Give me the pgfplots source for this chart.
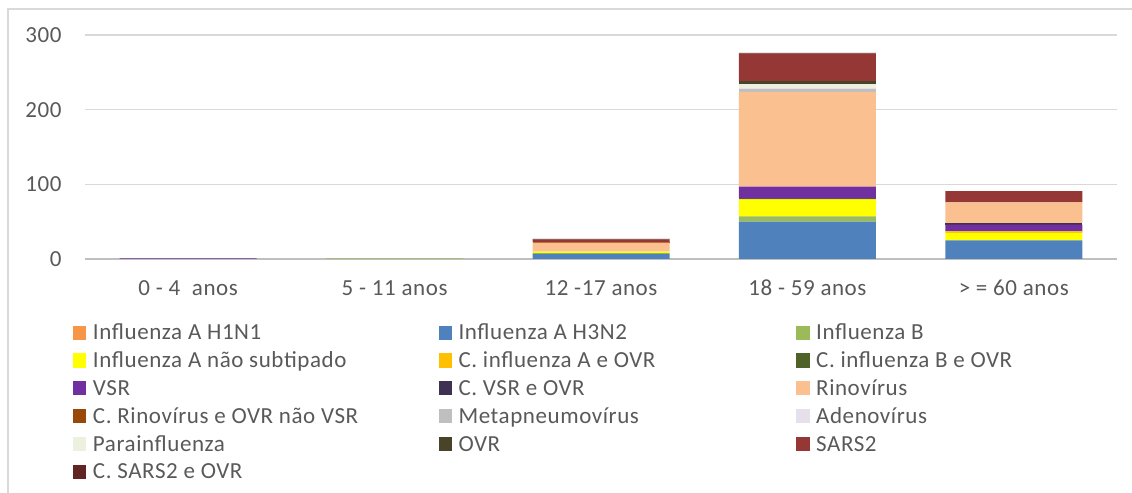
\documentclass[border=0pt]{standalone}
\usepackage{fontspec}
\setmainfont{Carlito}[LetterSpace=2.5]
\usepackage{pgfplots}
\pgfplotsset{compat=1.18}
\usepackage{pgfplotstable}
\definecolor{cH1N1}{HTML}{F79646}
\definecolor{cH3N2}{HTML}{4F81BD}
\definecolor{cB}{HTML}{9BBB59}
\definecolor{cNSub}{HTML}{FFFF00}
\definecolor{cCinfA}{HTML}{FFC000}
\definecolor{cCinfB}{HTML}{4F6228}
\definecolor{cVSR}{HTML}{7030A0}
\definecolor{cCVSR}{HTML}{3F3151}
\definecolor{cRino}{HTML}{FAC090}
\definecolor{cCRino}{HTML}{984807}
\definecolor{cMetap}{HTML}{BFBFBF}
\definecolor{cAdeno}{HTML}{E6E0EC}
\definecolor{cParainf}{HTML}{EBF1DE}
\definecolor{cOVR}{HTML}{494429}
\definecolor{cSARS}{HTML}{953735}
\definecolor{cCSARS}{HTML}{632523}
\definecolor{textc}{HTML}{595959}
\definecolor{gridc}{HTML}{D9D9D9}
\definecolor{axisc}{HTML}{BFBFBF}
\definecolor{framec}{HTML}{D9D9D9}
\pgfplotstableread{
x H1N1 H3N2 B NSub CinfA CinfB VSR CVSR Rino CRino Metap Adeno Parainf OVR SARS CSARS
0 0 0  0 0  0 0 1  0 0   0 0 0 0 0 0  0
1 0 0  1 0  0 0 0  0 0   0 0 0 0 0 0  0
2 0 7  1 2  0 0 0  0 12  1 0 0 0 0 3  1
3 0 50 7 22 1 2 15 0 127 0 4 1 5 4 37 1
4 0 25 0 10 2 0 9  2 28  0 0 0 0 0 15 0
}\datatable
\newcommand{\lA}[1]{\makebox[169.5pt][l]{#1}}
\newcommand{\lB}[1]{\makebox[165.5pt][l]{#1}}
\newcommand{\fs}{\fontsize{11.5pt}{13.8pt}\selectfont}
\begin{document}
\begin{tikzpicture}[font=\fs]
\path[use as bounding box] (0,0) rectangle (566pt,246.5pt);
\draw[color=framec, line width=0.75pt] (4pt,0) -- (4pt,242pt) -- (566pt,242pt);
\begin{axis}[
  at={(42.5pt,117pt)}, anchor=south west,
  scale only axis, width=516pt, height=112pt,
  xmin=-0.5, xmax=4.5, ymin=0, ymax=300,
  ybar stacked, bar width=68.5pt,
  xtick={0,1,2,3,4},
  xticklabels={0 - 4~ anos, 5 - 11 anos, 12 -17 anos, 18 - 59 anos, > = 60 anos},
  ytick={0,100,200,300},
  ymajorgrids, grid style={draw=gridc, line width=0.75pt},
  axis x line*=bottom, axis y line*=left,
  x axis line style={draw=axisc, line width=0.75pt, -},
  y axis line style={draw=none},
  major tick length=0pt,
  tick label style={font=\fs, text=textc},
  /pgf/number format/assume math mode=true,
  yticklabel style={inner sep=0pt, anchor=east, xshift=-11.5pt},
  xticklabel style={inner sep=0pt, anchor=base, yshift=-18.5pt},
  legend columns=3,
  legend style={at={(axis description cs:0,0)}, anchor=north west, xshift=-6pt, yshift=-32.4pt,
    draw=none, fill=none, inner sep=0pt, outer sep=0pt, column sep=3.3pt, row sep=0pt,
    font=\fs, text=textc,
    cells={anchor=base west},
    nodes={inner sep=0pt, text height=8pt, text depth=5.9pt}},
  legend image code/.code={\path[#1,draw=none] (0pt,0pt) rectangle (6.7pt,7.1pt);},
]
\addplot[fill=cH1N1, draw=none] table[x=x, y=H1N1] {\datatable};
\addlegendentry{\lA{Influenza A H1N1}}
\addplot[fill=cH3N2, draw=none] table[x=x, y=H3N2] {\datatable};
\addlegendentry{\lB{Influenza A H3N2}}
\addplot[fill=cB, draw=none] table[x=x, y=B] {\datatable};
\addlegendentry{Influenza B}
\addplot[fill=cNSub, draw=none] table[x=x, y=NSub] {\datatable};
\addlegendentry{\lA{Influenza A não subtipado}}
\addplot[fill=cCinfA, draw=none] table[x=x, y=CinfA] {\datatable};
\addlegendentry{\lB{C. influenza A e OVR}}
\addplot[fill=cCinfB, draw=none] table[x=x, y=CinfB] {\datatable};
\addlegendentry{C. influenza B e OVR}
\addplot[fill=cVSR, draw=none] table[x=x, y=VSR] {\datatable};
\addlegendentry{\lA{VSR}}
\addplot[fill=cCVSR, draw=none] table[x=x, y=CVSR] {\datatable};
\addlegendentry{\lB{C. VSR e OVR}}
\addplot[fill=cRino, draw=none] table[x=x, y=Rino] {\datatable};
\addlegendentry{Rinovírus}
\addplot[fill=cCRino, draw=none] table[x=x, y=CRino] {\datatable};
\addlegendentry{\lA{C. Rinovírus e OVR não VSR}}
\addplot[fill=cMetap, draw=none] table[x=x, y=Metap] {\datatable};
\addlegendentry{\lB{Metapneumovírus}}
\addplot[fill=cAdeno, draw=none] table[x=x, y=Adeno] {\datatable};
\addlegendentry{Adenovírus}
\addplot[fill=cParainf, draw=none] table[x=x, y=Parainf] {\datatable};
\addlegendentry{\lA{Parainfluenza}}
\addplot[fill=cOVR, draw=none] table[x=x, y=OVR] {\datatable};
\addlegendentry{\lB{OVR}}
\addplot[fill=cSARS, draw=none] table[x=x, y=SARS] {\datatable};
\addlegendentry{SARS2}
\addplot[fill=cCSARS, draw=none] table[x=x, y=CSARS] {\datatable};
\addlegendentry{\lA{C. SARS2 e OVR}}
\end{axis}
\end{tikzpicture}
\end{document}
